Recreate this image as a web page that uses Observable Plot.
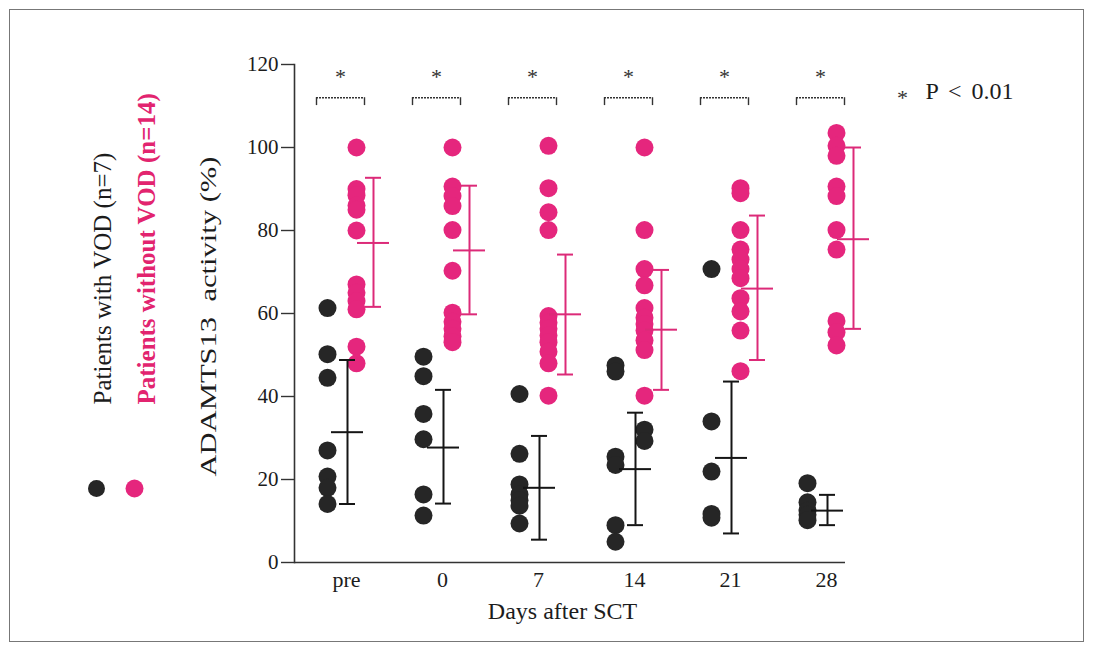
<!DOCTYPE html>
<html>
<head>
<meta charset="utf-8">
<script src="https://cdn.jsdelivr.net/npm/d3@7"></script>
<script src="https://cdn.jsdelivr.net/npm/@observablehq/plot@0.6"></script>
<style>
  body { margin: 0; background: #fff; }
  #wrap { position: relative; width: 1093px; height: 652px; overflow: hidden; background: #fff; }
  #wrap svg { position: absolute; left: 0; top: 0; }
  #border { position: absolute; left: 9px; top: 9px; width: 1075px; height: 633px;
            border: 1.5px solid #777; box-sizing: border-box; pointer-events: none; }
</style>
</head>
<body>
<div id="wrap"><div id="border"></div></div>
<script>
// ---- data ----
const days = ["pre", "0", "7", "14", "21", "28"];
const yTicks = [0, 20, 40, 60, 80, 100, 120];

// Patients with VOD (n=7): individual values per day
const vodValues = [
  [61.3, 50.2, 44.5, 27.0, 20.7, 18.0, 14.1],
  [49.6, 44.9, 35.8, 29.7, 16.4, 11.3],
  [40.6, 26.2, 18.8, 16.4, 15.0, 13.7, 9.4],
  [47.5, 46.0, 25.5, 23.5, 9.0, 5.0],
  [70.7, 34.0, 21.9, 11.7, 10.8],
  [19.1, 14.5, 12.5, 11.5, 10.2]
];
// VOD values at day 14 drawn in a second column beside the first
const vodDay14Beside = [32.0, 29.3];
const vodMean  = [31.4, 27.7, 18.0, 22.5, 25.2, 12.5];
const vodLower = [14.1, 14.2, 5.5, 9.0, 7.0, 9.0];
const vodUpper = [48.8, 41.6, 30.5, 36.1, 43.6, 16.3];

// Patients without VOD (n=14)
const nonValues = [
  [100, 90, 88.5, 86, 85, 80, 67, 65, 63, 61, 52, 48],
  [100, 90.6, 88.3, 85.9, 80.1, 70.3, 60.2, 58, 56.3, 54.5, 53.1],
  [100.4, 90.2, 84.4, 80.1, 59.4, 57.8, 56.3, 54.7, 53.1, 50.8, 48.0, 40.2],
  [100, 80.1, 70.7, 66.8, 61.3, 59.0, 57.5, 55.9, 53.5, 51.2, 40.2],
  [90.2, 89, 80.1, 75.4, 73, 70.7, 68.5, 63.7, 60.5, 55.9, 46.1],
  [103.5, 100.4, 98.0, 90.6, 88.3, 80.1, 75.4, 58.2, 55.5, 52.3]
];
const nonMean  = [77.0, 75.2, 59.8, 56.1, 66.0, 77.9];
const nonLower = [61.6, 59.8, 45.3, 41.6, 48.8, 56.3];
const nonUpper = [92.7, 90.8, 74.2, 70.5, 83.6, 100.0];

const labelVod = "Patients with VOD (n=7)";
const labelNon = "Patients without VOD (n=14)";
const yTitle = "ADAMTS13\u00a0\u00a0activity (%)";
const xTitle = "Days after SCT";
const sigMark = "*";
const sigNote = "P < 0.01";

// ---- tables ----
const vodPts = days.flatMap((d, i) => vodValues[i].map(v => ({day: d, v})));
const vodBesidePts = vodDay14Beside.map(v => ({day: "14", v}));
const nonPts = days.flatMap((d, i) => nonValues[i].map(v => ({day: d, v})));
const vodStats = days.map((d, i) => ({day: d, m: vodMean[i], lo: vodLower[i], hi: vodUpper[i]}));
const nonStats = days.map((d, i) => ({day: d, m: nonMean[i], lo: nonLower[i], hi: nonUpper[i]}));

// ---- layout & style ----
const W = 1093, H = 652;
const ML = 294, MT = 64, MB = 90, MR = 248;
const BW = 96, C0 = 345.7;
const OFF_VOD = -19, OFF_NON = 10, OFF_VOD_ERR = 1, OFF_NON_ERR = 27;
const BLACK = "#262626", PINK = "#e5267d", PINK_TXT = "#e2246f", INK = "#1c1c1c";
const seg = (off, h) => ({insetLeft: BW / 2 + off - h, insetRight: BW / 2 - off - h});
const BR_L = -30, BR_R = 18;

function errMarks(stats, off, color) {
  return [
    Plot.ruleX(stats, {x: "day", y1: "lo", y2: "hi", dx: off, stroke: color, strokeWidth: 2}),
    Plot.tickY(stats, {x: "day", y: "lo", ...seg(off, 8), stroke: color, strokeWidth: 2}),
    Plot.tickY(stats, {x: "day", y: "hi", ...seg(off, 8), stroke: color, strokeWidth: 2}),
    Plot.tickY(stats, {x: "day", y: "m", ...seg(off, 16), stroke: color, strokeWidth: 2})
  ];
}

const chart = Plot.plot({
  width: W, height: H,
  marginLeft: ML, marginTop: MT, marginBottom: MB, marginRight: MR,
  style: {fontFamily: '"Liberation Serif", "Times New Roman", serif', color: INK, background: "transparent"},
  x: {type: "band", domain: days, range: [C0 - BW / 2, C0 + BW * 5.5], padding: 0, label: null},
  y: {domain: [0, 120], label: null},
  marks: [
    Plot.ruleY([0], {stroke: "#333", strokeWidth: 1.6}),
    Plot.frame({anchor: "left", stroke: "#333", strokeWidth: 1.6}),
    Plot.axisY({ticks: yTicks, tickSize: 13, tickPadding: 3, fontSize: 21, label: null, stroke: "#333", strokeWidth: 1.4}),
    Plot.axisX({tickSize: 0, tickPadding: 9, fontSize: 22, label: null}),

    Plot.dot(vodPts, {x: "day", y: "v", dx: OFF_VOD, r: 9, fill: BLACK}),
    Plot.dot(vodBesidePts, {x: "day", y: "v", dx: OFF_NON, r: 9, fill: BLACK}),
    Plot.dot(nonPts, {x: "day", y: "v", dx: OFF_NON, r: 9, fill: PINK}),

    ...errMarks(vodStats, OFF_VOD_ERR, "#151515"),
    ...errMarks(nonStats, OFF_NON_ERR, "#dc2a78"),

    // significance brackets
    Plot.tickY(days, {x: d => d, y: () => 112, ...seg((BR_L + BR_R) / 2, (BR_R - BR_L) / 2), stroke: "#333", strokeWidth: 1.4, strokeDasharray: "2,1"}),
    Plot.ruleX(days, {x: d => d, y1: () => 110.1, y2: () => 112, dx: BR_L, stroke: "#333", strokeWidth: 1.4}),
    Plot.ruleX(days, {x: d => d, y1: () => 110.1, y2: () => 112, dx: BR_R, stroke: "#333", strokeWidth: 1.4}),
    Plot.text(days, {x: d => d, y: () => 117, text: () => sigMark, dx: (BR_L + BR_R) / 2, fontSize: 22, fill: "#333"}),
    Plot.text([sigMark], {frameAnchor: "top-left", dx: 608, dy: 25, fontSize: 22, textAnchor: "middle", fill: "#333"}),
    Plot.text([sigNote], {frameAnchor: "top-left", dx: 631, dy: 17, fontSize: 24, textAnchor: "start", fill: INK}),

    // axis titles
    Plot.text([yTitle], {frameAnchor: "top-left", dx: -96, dy: 252, rotate: -90, textAnchor: "middle", fontSize: 24, fill: INK}),
    Plot.text([xTitle], {frameAnchor: "top-left", dx: 268, dy: 537, textAnchor: "middle", fontSize: 24, fill: INK}),

    // legend (left, rotated)
    Plot.text([labelVod], {frameAnchor: "top-left", dx: -201, dy: 340, rotate: -90, textAnchor: "start", fontSize: 25, fill: INK}),
    Plot.text([labelNon], {frameAnchor: "top-left", dx: -157, dy: 340, rotate: -90, textAnchor: "start", fontSize: 25, fontWeight: "bold", fill: PINK_TXT}),
    Plot.dot([labelVod], {frameAnchor: "top-left", dx: -198, dy: 424, r: 8.5, fill: BLACK}),
    Plot.dot([labelNon], {frameAnchor: "top-left", dx: -160, dy: 424, r: 9, fill: PINK})
  ]
});

// stretch the rotated title to the length seen in the figure; widen the note's spaces
d3.select(chart).selectAll("text").each(function () {
  if (this.textContent === yTitle) {
    d3.select(this).attr("textLength", 320).attr("lengthAdjust", "spacingAndGlyphs");
  } else if (this.textContent === sigNote) {
    d3.select(this).style("word-spacing", "4px");
  }
});
document.getElementById("wrap").prepend(chart);
</script>
</body>
</html>
